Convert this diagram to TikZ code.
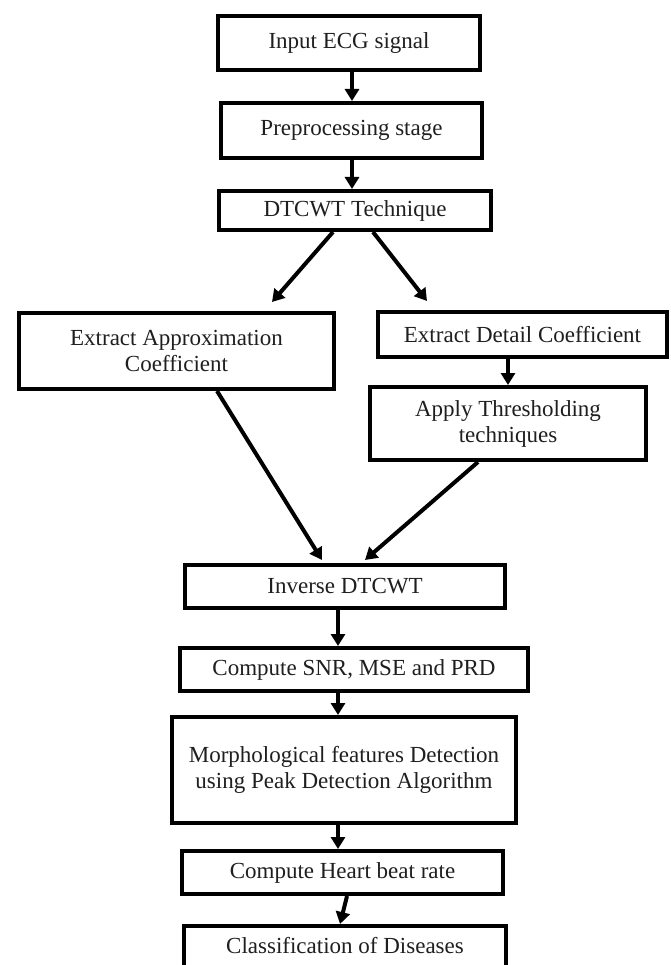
\documentclass[tikz,border=0pt]{standalone}
\usepackage{fontspec}
\setmainfont{Liberation Serif}
\usetikzlibrary{arrows.meta}
\tikzset{
  box/.style={draw=black, line width=4pt, fill=white, inner sep=0pt, align=center,
    font=\fontsize{23}{26}\selectfont, text=black!88},
  arr/.style={line width=4pt, -{Triangle[length=12pt,width=14pt]}}
}
\begin{document}
\begin{tikzpicture}[x=1pt,y=-1pt]
\useasboundingbox (0,0) rectangle (670,965);
\clip (0,0) rectangle (670,965);
\fill[white] (0,0) rectangle (670,965);
\node[box, minimum width=262pt, minimum height=54pt] (b1) at (349,43) {Input ECG signal};
\node[box, minimum width=261pt, minimum height=55pt] (b2) at (351.5,130.5) {Preprocessing stage};
\node[box, minimum width=272pt, minimum height=39pt] (b3) at (355,210.5) {DTCWT Technique};
\node[box, minimum width=315pt, minimum height=76pt] (b4) at (176.5,351) {Extract Approximation\\Coefficient};
\node[box, minimum width=289pt, minimum height=45pt] (b5) at (522.5,334.5) {Extract Detail Coefficient};
\node[box, minimum width=276pt, minimum height=73pt] (b6) at (508,423.5) {Apply Thresholding\\techniques};
\node[box, minimum width=320pt, minimum height=43pt] (b7) at (345,586.5) {Inverse DTCWT};
\node[box, minimum width=348pt, minimum height=43pt] (b8) at (354,669.5) {Compute SNR, MSE and PRD};
\node[box, minimum width=344pt, minimum height=106pt] (b9) at (344,770) {Morphological features Detection\\using Peak Detection Algorithm};
\node[box, minimum width=321pt, minimum height=43pt] (b10) at (342.5,872.5) {Compute Heart beat rate};
\node[box, minimum width=322pt, minimum height=57pt, text depth=0pt] (b11) at (345,954.5) {\raisebox{18pt}{Classification of Diseases}};

\draw[arr] ([xshift=3pt]b1.south) -- ([xshift=0.5pt]b2.north);
\draw[arr] ([xshift=0.5pt]b2.south) -- ([xshift=-3pt]b3.north);
\draw[arr] ([xshift=-22pt]b3.south) -- ([xshift=95.5pt,yshift=9pt]b4.north);
\draw[arr] ([xshift=18pt]b3.south) -- ([xshift=-95.5pt,yshift=9pt]b5.north);
\draw[arr] ([xshift=-14.5pt]b5.south) -- (b6.north);
\draw[arr] ([xshift=40.5pt]b4.south) -- ([xshift=-23pt,yshift=3pt]b7.north);
\draw[arr] ([xshift=-30pt]b6.south) -- ([xshift=20pt,yshift=3pt]b7.north);
\draw[arr] ([xshift=-7pt]b7.south) -- ([xshift=-16pt]b8.north);
\draw[arr] ([xshift=-16pt]b8.south) -- ([xshift=-6pt]b9.north);
\draw[arr] ([xshift=-6pt]b9.south) -- ([xshift=-4.5pt]b10.north);
\draw[arr] ([xshift=4.5pt]b10.south) -- ([xshift=-5pt]b11.north);
\end{tikzpicture}
\end{document}
